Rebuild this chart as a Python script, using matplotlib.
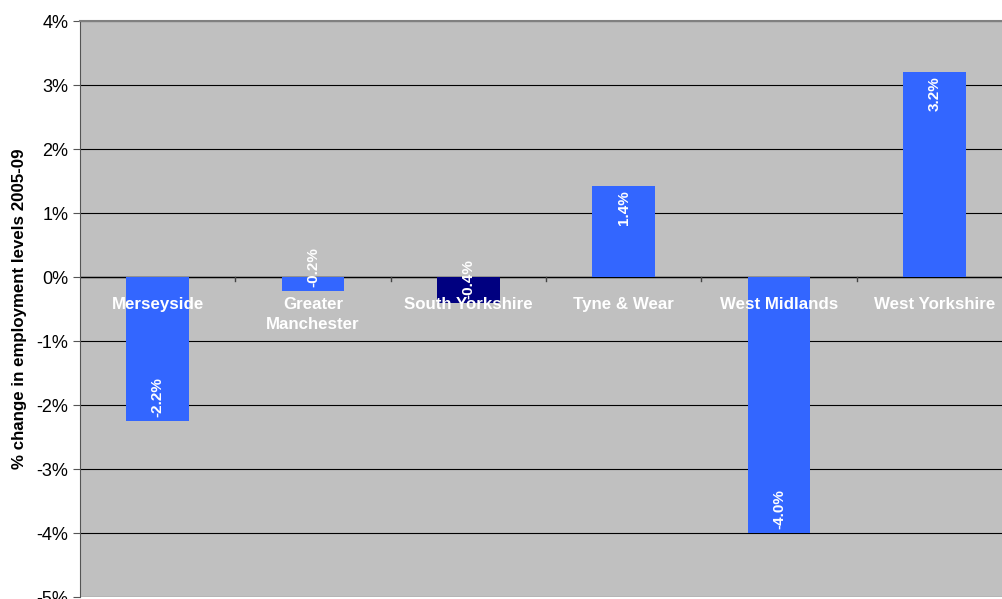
import matplotlib
matplotlib.use("Agg")
import matplotlib.pyplot as plt
import numpy as np

categories = ["Merseyside", "Greater\nManchester", "South Yorkshire", "Tyne & Wear", "West Midlands", "West Yorkshire"]
values = [-2.25, -0.22, -0.41, 1.42, -4.0, 3.2]
labels = ["-2.2%", "-0.2%", "-0.4%", "1.4%", "-4.0%", "3.2%"]
colors = ["#3366FF", "#3366FF", "#000080", "#3366FF", "#3366FF", "#3366FF"]
yticks = [-5, -4, -3, -2, -1, 0, 1, 2, 3, 4]

plt.rcParams['font.family'] = ['Liberation Sans', 'DejaVu Sans']

fig = plt.figure(figsize=(10.03, 5.99), dpi=100)
# plot area extends slightly past the right edge of the figure, as in the reference
ax = fig.add_axes([80/1003, 2/599, 932/1003, 576/599])
ax.set_facecolor("#C0C0C0")

x = np.arange(len(categories))
ax.bar(x, values, width=0.405, color=colors, zorder=3)
ax.set_xlim(-0.5, len(categories) - 0.5)
ax.set_ylim(-5, 4)
ax.set_yticks(yticks)
ax.set_yticklabels([f"{t}%" for t in yticks], fontsize=13)
ax.grid(axis='y', color='black', linewidth=0.8, zorder=1)
ax.set_axisbelow(True)
ax.axhline(0, color='black', linewidth=1, zorder=2)

ax.set_xticks([])
for b in np.arange(0.5, len(categories) - 0.5, 1):
    ax.plot([b, b], [0, -0.06], color='#444444', linewidth=1, zorder=2)

for xi, name in zip(x, categories):
    ax.text(xi, -0.31, name, ha='center', va='top', color='white', fontweight='bold', fontsize=12.2, zorder=4, linespacing=1.45)

for xi, v, lab in zip(x, values, labels):
    if v >= 0:
        ax.text(xi, v - 0.06, lab, rotation=90, ha='center', va='top', color='white', fontweight='bold', fontsize=11, zorder=4)
    else:
        ax.text(xi, v + 0.06, lab, rotation=90, ha='center', va='bottom', color='white', fontweight='bold', fontsize=11, zorder=4)

ax.set_ylabel("% change in employment levels 2005-09", fontweight='bold', fontsize=12.2)
ax.yaxis.set_label_coords(-53/932, 0.5)
for s in ['right', 'bottom']:
    ax.spines[s].set_visible(False)
ax.spines['top'].set_color('#808080')
ax.spines['top'].set_linewidth(1.5)
ax.spines['left'].set_color('#555555')
ax.tick_params(axis='y', length=5, color='#555555')

fig.savefig("out.png", dpi=100)
